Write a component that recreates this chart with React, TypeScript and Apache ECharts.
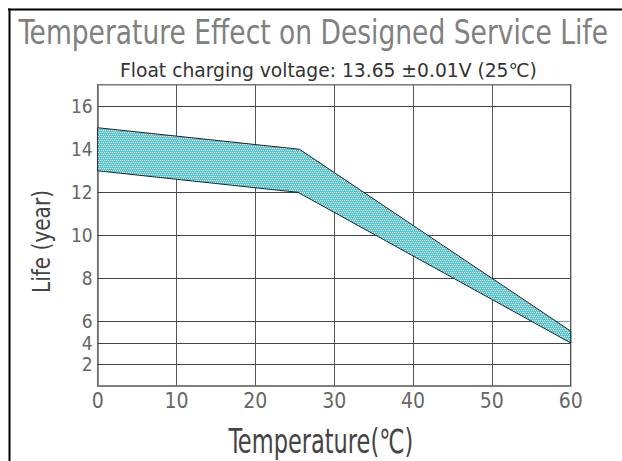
import React, { useEffect, useRef } from 'react';
import * as echarts from 'echarts';

// ---- data ----
const xTicks = [0, 10, 20, 30, 40, 50, 60];
const yTickLabels = [2, 4, 6, 8, 10, 12, 14, 16];
const yGridLines = [2, 4, 6, 8, 10, 12, 16];
const upperTemp = [0, 25.6, 60];
const upperLife = [15, 14, 5.1];
const lowerTemp = [0, 25.4, 60];
const lowerLife = [13, 12, 4];
const strayTemp = [58.3, 60];
const strayLife = [6, 6];
const yMaxLife = 17;

const titleText = 'Temperature Effect on Designed Service Life';
const subtitleText = 'Float charging voltage: 13.65 ±0.01V (25℃)';
const xName = 'Temperature(℃)';
const yName = 'Life (year)';

// the reference's life axis is compressed below 6 years (half scale)
const toU = (v: number) => (v <= 6 ? v : 6 + 2 * (v - 6));
const toV = (u: number) => (u <= 6 ? u : 6 + (u - 6) / 2);

const FONT = '"Liberation Sans Narrow", "DejaVu Sans Condensed", "Arial Narrow", sans-serif';

function textWidth(text: string, size: number) {
  const ctx = document.createElement('canvas').getContext('2d')!;
  ctx.font = `${size}px ${FONT}`;
  return ctx.measureText(text).width;
}

function makePattern() {
  const c = document.createElement('canvas');
  c.width = 4;
  c.height = 4;
  const ctx = c.getContext('2d')!;
  for (let y = 0; y < 4; y++) {
    for (let x = 0; x < 4; x++) {
      const white = x % 2 === (y % 4 < 2 ? 0 : 1) && y % 2 === 0;
      ctx.fillStyle = white ? '#ffffff' : '#4cc9db';
      ctx.fillRect(x, y, 1, 1);
    }
  }
  return { image: c, repeat: 'repeat', imageWidth: 4, imageHeight: 4 };
}

function fitText(
  text: string,
  size: number,
  cx: number,
  cy: number,
  width: number,
  fill: string,
  rotation = 0
) {
  const w = textWidth(text, size);
  return {
    type: 'text',
    x: cx,
    y: cy,
    rotation,
    scaleX: width / w,
    style: {
      text,
      fill,
      fontSize: size,
      fontFamily: FONT,
      textAlign: 'center',
      textVerticalAlign: 'middle',
    },
    silent: true,
  };
}

export default function App() {
  const ref = useRef<HTMLDivElement>(null);

  useEffect(() => {
    if (!ref.current) return;
    const chart = echarts.init(ref.current, undefined, { renderer: 'svg' });
    const pattern = makePattern();

    const option: any = {
      animation: false,
      backgroundColor: '#ffffff',
      grid: {
        left: 97.7,
        right: 51.3,
        top: 84.7,
        bottom: 75,
        show: true,
        borderColor: '#777',
        borderWidth: 1.5,
        backgroundColor: 'transparent',
      },
      xAxis: {
        type: 'value',
        min: xTicks[0],
        max: xTicks[xTicks.length - 1],
        interval: 10,
        axisLine: { show: true, lineStyle: { color: '#777', width: 1.5 } },
        axisTick: { show: false },
        axisLabel: { color: '#666', fontSize: 21, fontFamily: FONT, margin: 5, lineHeight: 19 },
        splitLine: { show: true, lineStyle: { color: '#555', width: 1 } },
      },
      yAxis: {
        type: 'value',
        min: 0,
        max: toU(yMaxLife),
        interval: 2,
        axisLine: { show: true, lineStyle: { color: '#777', width: 1.5 } },
        axisTick: { show: false },
        splitLine: { show: false },
        axisLabel: {
          color: '#666',
          fontSize: 19,
          lineHeight: 18,
          fontFamily: FONT,
          margin: 5,
          formatter: (u: number) => {
            const v = toV(u);
            return u > 0 && yTickLabels.includes(v) ? String(v) : '';
          },
        },
      },
      series: [
        {
          type: 'line',
          data: strayTemp.map((t, i) => [t, toU(strayLife[i])]),
          symbol: 'none',
          silent: true,
          z: 2,
          lineStyle: { color: '#7aa7e0', width: 1 },
          markLine: {
            silent: true,
            z: 1,
            symbol: 'none',
            label: { show: false },
            lineStyle: { color: '#444', width: 1, type: 'solid' },
            data: yGridLines.map((v) => ({ yAxis: toU(v) })),
          },
        },
        {
          type: 'custom',
          coordinateSystem: 'cartesian2d',
          silent: true,
          z: 3,
          data: [[0, 0]],
          renderItem: (_params: any, api: any) => {
            const pts: number[][] = [];
            upperTemp.forEach((t, i) => pts.push(api.coord([t, toU(upperLife[i])])));
            for (let i = lowerTemp.length - 1; i >= 0; i--) {
              pts.push(api.coord([lowerTemp[i], toU(lowerLife[i])]));
            }
            return {
              type: 'polygon',
              shape: { points: pts },
              style: { fill: pattern, stroke: '#222', lineWidth: 1 },
            };
          },
        },
      ],
      graphic: [
        { type: 'line', shape: { x1: 8, y1: 9.5, x2: 622, y2: 9.5 }, style: { stroke: '#000', lineWidth: 2 }, silent: true },
        { type: 'line', shape: { x1: 9.5, y1: 8.5, x2: 9.5, y2: 461 }, style: { stroke: '#000', lineWidth: 2 }, silent: true },
        fitText(titleText, 33, 313.2, 32.5, 590, '#808080'),
        fitText(subtitleText, 19, 328.4, 70.7, 417, '#333'),
        fitText(xName, 33, 320.8, 442, 185, '#444'),
        fitText(yName, 24, 41, 241.5, 103, '#444', Math.PI / 2),
      ],
    };

    chart.setOption(option);
    return () => chart.dispose();
  }, []);

  return (
    <div
      ref={ref}
      style={{ position: 'absolute', left: 0, top: 0, width: 622, height: 461 }}
    />
  );
}
